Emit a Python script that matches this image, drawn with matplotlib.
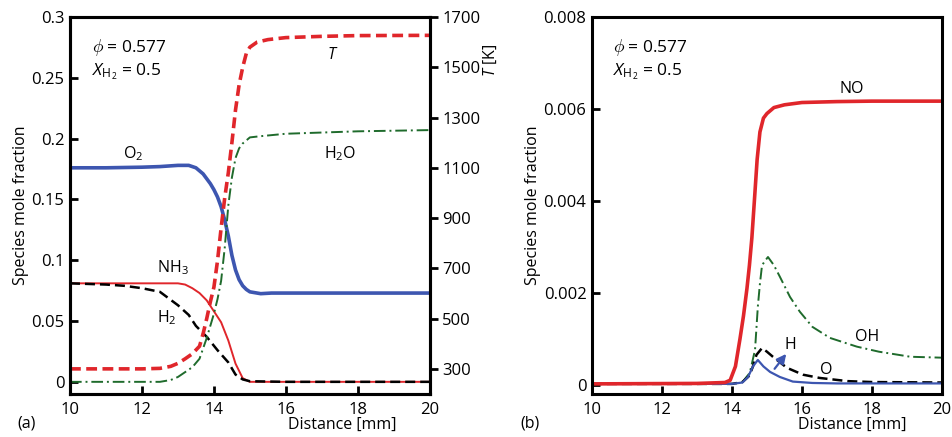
import matplotlib
matplotlib.use("Agg")
import matplotlib.pyplot as plt
from matplotlib.ticker import FixedLocator, FixedFormatter

plt.rcParams['font.family'] = ['Open Sans', 'DejaVu Sans']
plt.rcParams['mathtext.fontset'] = 'custom'
plt.rcParams['mathtext.rm'] = 'Open Sans'
plt.rcParams['mathtext.it'] = 'Open Sans:italic'
plt.rcParams['font.size'] = 11.5

RED = '#e0262b'
BLUE = '#3d56b0'
GREEN = '#1f6b2c'

# ---- panel (a) data ----
x_T = [10, 12, 12.5, 12.8, 13.0, 13.2, 13.4, 13.6, 13.7, 13.8, 13.9, 14.0, 14.1, 14.2,
       14.3, 14.4, 14.5, 14.6, 14.7, 14.8, 14.9, 15.0, 15.2, 15.5, 16, 17, 18, 20]
T = [300, 300, 302, 310, 322, 340, 360, 390, 440, 500, 566, 625, 730, 860,
     980, 1080, 1200, 1330, 1430, 1500, 1555, 1580, 1600, 1610, 1618, 1623, 1626, 1627]

x_h2o = [10, 12.5, 12.8, 13.0, 13.2, 13.4, 13.6, 13.8, 14.0, 14.1, 14.2, 14.3, 14.4,
         14.5, 14.6, 14.7, 14.8, 15.0, 15.3, 16, 17, 18, 20]
h2o = [0, 0, 0.0015, 0.004, 0.008, 0.012, 0.019, 0.036, 0.056, 0.068, 0.083, 0.110, 0.145,
       0.168, 0.184, 0.192, 0.196, 0.201, 0.202, 0.204, 0.205, 0.206, 0.207]

x_o2 = [10, 11, 12, 12.5, 13, 13.3, 13.5, 13.7, 13.9, 14.0, 14.1, 14.2, 14.3, 14.4, 14.5,
        14.6, 14.7, 14.8, 14.9, 15.0, 15.3, 15.6, 16, 17, 18, 20]
o2 = [0.176, 0.176, 0.1765, 0.177, 0.178, 0.178, 0.176, 0.171, 0.163, 0.158, 0.152, 0.144,
      0.133, 0.120, 0.104, 0.092, 0.084, 0.079, 0.076, 0.074, 0.0725, 0.073, 0.073, 0.073,
      0.073, 0.073]

x_nh3 = [10, 13, 13.2, 13.4, 13.6, 13.8, 14.0, 14.2, 14.4, 14.6, 14.8, 15.0, 16, 20]
nh3 = [0.081, 0.081, 0.080, 0.077, 0.073, 0.067, 0.058, 0.049, 0.034, 0.015, 0.003, 0, 0, 0]

x_h2 = [10, 11, 11.5, 12, 12.5, 13, 13.3, 13.5, 13.8, 14.1, 14.4, 14.6, 14.8, 15.0, 16, 20]
h2 = [0.081, 0.080, 0.079, 0.077, 0.074, 0.063, 0.055, 0.046, 0.037, 0.026, 0.016, 0.006,
      0.002, 0.0005, 0, 0]

# ---- panel (b) data ----
x_no = [10, 13, 13.8, 13.95, 14.1, 14.23, 14.33, 14.43, 14.5, 14.57, 14.65, 14.72, 14.8,
        14.9, 15.0, 15.2, 15.5, 16, 17, 18, 20]
no = [0.00002, 0.00003, 0.00005, 0.0001, 0.0004, 0.001, 0.0015, 0.0021, 0.0026, 0.0032,
      0.0041, 0.0049, 0.0055, 0.0058, 0.0059, 0.00603, 0.00609, 0.00614, 0.00616, 0.00617,
      0.00617]

x_oh = [10, 14, 14.3, 14.51, 14.66, 14.74, 14.8, 14.86, 14.95, 15.03, 15.2, 15.37, 15.66,
        15.94, 16.3, 16.8, 17.57, 18.2, 19.1, 20]
oh = [0.00002, 0.00002, 0.00006, 0.00026, 0.00076, 0.0017, 0.0022, 0.0026, 0.0027, 0.00278,
      0.0026, 0.00235, 0.00191, 0.00159, 0.00126, 0.00102, 0.00083, 0.00072, 0.00061,
      0.00059]

x_h = [10, 14, 14.3, 14.46, 14.6, 14.74, 14.9, 15.09, 15.37, 15.74, 16.3, 17, 20]
h = [0.00002, 0.00002, 0.00005, 0.00017, 0.0004, 0.00054, 0.0004, 0.00028, 0.00017,
     0.00007, 0.00004, 0.00003, 0.00003]

x_o = [10, 14, 14.3, 14.5, 14.6, 14.7, 14.86, 15.0, 15.17, 15.57, 16.03, 16.5, 17.3, 18, 20]
o = [0.00002, 0.00002, 0.00006, 0.0002, 0.0004, 0.00065, 0.0008, 0.00072, 0.00061, 0.00037,
     0.00022, 0.00015, 0.00008, 0.00006, 0.00005]

xticks = [10, 12, 14, 16, 18, 20]
yticks_a = [0, 0.05, 0.1, 0.15, 0.2, 0.25, 0.3]
ylabels_a = ['0', '0.05', '0.1', '0.15', '0.2', '0.25', '0.3']
Tticks = [300, 500, 700, 900, 1100, 1300, 1500, 1700]
yticks_b = [0, 0.002, 0.004, 0.006, 0.008]
ylabels_b = ['0', '0.002', '0.004', '0.006', '0.008']

fig = plt.figure(figsize=(9.52, 4.37), dpi=100)
axa = fig.add_axes([0.0735, 0.0984, 0.378, 0.8627])
axb = fig.add_axes([0.6218, 0.0984, 0.3676, 0.8627])


def style(ax):
    for s in ax.spines.values():
        s.set_linewidth(2.2)
    ax.set_xlim(10, 20)
    ax.xaxis.set_major_locator(FixedLocator(xticks))
    ax.tick_params(axis='x', direction='in', length=6, width=2, pad=6, labelsize=12)
    ax.tick_params(axis='y', direction='in', length=6, width=2, pad=4, labelsize=12)


# panel (a)
style(axa)
axa.set_ylim(-0.01, 0.3)
axa.yaxis.set_major_locator(FixedLocator(yticks_a))
axa.yaxis.set_major_formatter(FixedFormatter(ylabels_a))
axa.plot(x_o2, o2, color=BLUE, lw=2.6)
axa.plot(x_nh3, nh3, color=RED, lw=1.4)
axa.plot(x_h2, h2, color='black', lw=1.8, dashes=(4, 2))
axa.plot(x_h2o, h2o, color=GREEN, lw=1.4, dashes=(6, 2, 1, 2))

axT = axa.twinx()
axT.set_ylim(200, 1700)
axT.yaxis.set_major_locator(FixedLocator(Tticks))
axT.tick_params(axis='y', direction='out', length=6, width=2, pad=3, labelsize=12)
for s in axT.spines.values():
    s.set_linewidth(2.2)
axT.plot(x_T, T, color=RED, lw=2.6, dashes=(3, 1.5))

axa.set_ylabel('Species mole fraction', labelpad=2)
axa.text(11.75, 0.188, 'O$_2$', ha='center', va='center')
axa.text(17.5, 0.188, 'H$_2$O', ha='center', va='center')
axa.text(17.3, 0.269, '$T$', ha='center', va='center')
axa.text(12.87, 0.094, 'NH$_3$', ha='center', va='center')
axa.text(12.7, 0.053, 'H$_2$', ha='center', va='center')
axa.text(0.06, 0.92, r'$\phi$ = 0.577', transform=axa.transAxes, va='center', fontsize=12.5)
axa.text(0.06, 0.855, r'$X_{\mathrm{H_2}}$ = 0.5', transform=axa.transAxes, va='center',
         fontsize=12.5)
fig.text(490 / 952, 1 - 60 / 437, '$T$ [K]', rotation=90, ha='center', va='center')
fig.text(27 / 952, 1 - 423 / 437, '(a)', ha='center', va='center')
fig.text(342 / 952, 1 - 425 / 437, 'Distance [mm]', ha='center', va='center')

# panel (b)
style(axb)
axb.set_ylim(-0.0002, 0.008)
axb.yaxis.set_major_locator(FixedLocator(yticks_b))
axb.yaxis.set_major_formatter(FixedFormatter(ylabels_b))
axb.plot(x_oh, oh, color=GREEN, lw=1.4, dashes=(6, 2, 1, 2))
axb.plot(x_o, o, color='black', lw=1.8, dashes=(4, 2))
axb.plot(x_h, h, color=BLUE, lw=1.6)
axb.plot(x_no, no, color=RED, lw=2.6)
axb.annotate('', xy=(15.6, 0.00072), xytext=(15.17, 0.0003),
             arrowprops=dict(arrowstyle='-|>', color=BLUE, lw=1.6, mutation_scale=14))
axb.set_ylabel('Species mole fraction', labelpad=2)
axb.text(17.43, 0.00643, 'NO', ha='center', va='center')
axb.text(17.86, 0.00104, 'OH', ha='center', va='center')
axb.text(15.66, 0.00087, 'H', ha='center', va='center')
axb.text(16.7, 0.00033, 'O', ha='center', va='center')
axb.text(0.06, 0.92, r'$\phi$ = 0.577', transform=axb.transAxes, va='center', fontsize=12.5)
axb.text(0.06, 0.855, r'$X_{\mathrm{H_2}}$ = 0.5', transform=axb.transAxes, va='center',
         fontsize=12.5)
fig.text(530 / 952, 1 - 423 / 437, '(b)', ha='center', va='center')
fig.text(852 / 952, 1 - 425 / 437, 'Distance [mm]', ha='center', va='center')

fig.savefig('out.png', dpi=100, facecolor='white')
